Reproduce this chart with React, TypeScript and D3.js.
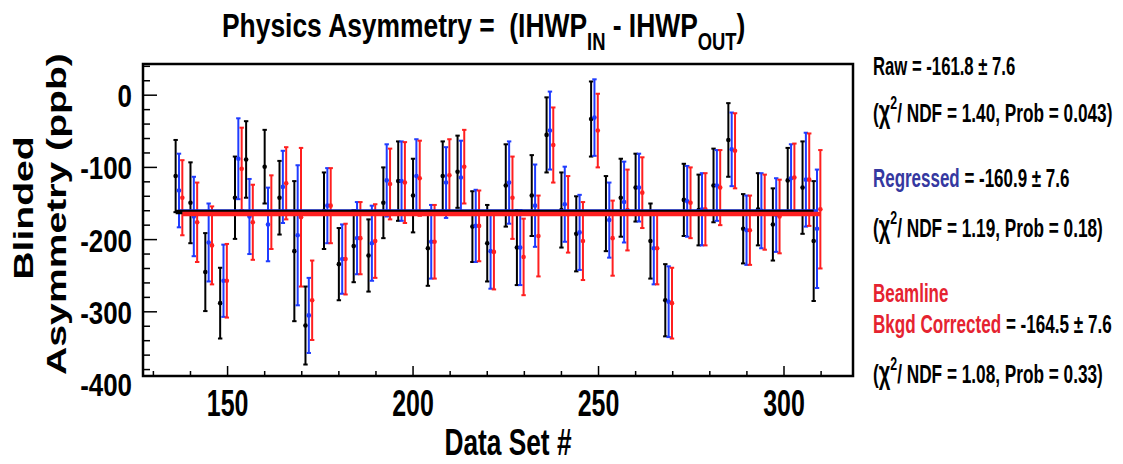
import React from 'react';
import * as d3 from 'd3';

// data set numbers
const runs = [136, 140, 144, 148, 152, 155, 160, 164, 168, 171, 176, 180, 184, 188, 192, 196, 200, 204, 208, 212, 216, 220, 225, 228, 232, 236, 240, 244, 248, 252, 256, 260, 264, 268, 273, 277, 281, 285, 289, 293, 297, 301, 305, 308];

// raw asymmetry (black)
const rawAsym = [-112, -149, -245, -288, -142, -89, -99, -142, -216, -319, -160, -234, -209, -222, -149, -119, -139, -212, -112, -106, -182, -205, -125, -211, -139, -55, -159, -192, -33, -164, -142, -128, -202, -284, -145, -159, -125, -62, -185, -158, -179, -118, -128, -202];
const rawErr = [50, 56, 54, 49, 57, 53, 51, 51, 97, 54, 53, 50, 50, 50, 49, 55, 51, 52, 48, 50, 49, 53, 57, 52, 56, 52, 52, 52, 52, 52, 54, 47, 52, 50, 50, 49, 51, 51, 48, 50, 50, 45, 64, 83];

// regressed (blue)
const regAsym = [-132, -168, -204, -257, -88, -168, -179, -127, -194, -305, -153, -227, -198, -205, -118, -119, -112, -203, -121, -114, -181, -216, -121, -211, -153, -49, -151, -190, -31, -173, -148, -128, -212, -286, -147, -158, -125, -75, -187, -160, -166, -115, -117, -185];
const regErr = [51, 55, 54, 50, 56, 52, 51, 50, 97, 52, 52, 48, 50, 52, 50, 55, 51, 51, 49, 51, 50, 52, 57, 52, 57, 54, 52, 52, 53, 52, 56, 47, 50, 49, 49, 50, 49, 51, 48, 52, 51, 47, 65, 82];

// beamline background corrected (red)
const corAsym = [-142, -176, -208, -257, -102, -176, -162, -122, -169, -284, -153, -227, -198, -202, -123, -121, -115, -203, -111, -99, -181, -217, -142, -224, -195, -69, -165, -202, -49, -198, -159, -135, -212, -288, -149, -158, -128, -77, -187, -162, -168, -114, -117, -158];
const corErr = [52, 55, 54, 51, 57, 52, 51, 50, 96, 55, 52, 49, 50, 51, 49, 56, 52, 51, 50, 51, 49, 52, 57, 53, 56, 52, 53, 54, 51, 52, 56, 49, 50, 49, 49, 50, 52, 52, 48, 52, 51, 47, 64, 82];

// fitted constants
const fitMeans = [-161.8, -160.9, -164.5];

const xTicks = [150, 200, 250, 300];
const yTicks = [0, -100, -200, -300, -400];

const statLines = [
  ['Raw', ' = -161.8 \u00b1 7.6'],
  ['1.40', '0.043'],
  ['Regressed', ' = -160.9 \u00b1 7.6'],
  ['1.19', '0.18'],
  ['Beamline'],
  ['Bkgd Corrected', ' = -164.5 \u00b1 7.6'],
  ['1.08', '0.33'],
];

const W = 1123;
const H = 464;
const FONT = '"Liberation Sans", Arial, Helvetica, sans-serif';

const series = [
  { vals: rawAsym, errs: rawErr, color: '#000000', dx: 0 },
  { vals: regAsym, errs: regErr, color: '#1f3cff', dx: 0.9 },
  { vals: corAsym, errs: corErr, color: '#ff1f1f', dx: 1.8 },
];

const App = () => {
  const x = d3.scaleLinear().domain([127.2, 318.6]).range([143, 853]);
  const y = d3.scaleLinear().domain([43.2, -388.9]).range([64, 376]);
  const [x0, x1] = x.range();
  const [y0, y1] = y.range();

  const xMinor = d3.range(130, 319, 10);
  const yMinor = d3.range(-380, 43, 20);

  const chi = (ndf, prob, yy) => (
    <text transform={`translate(873,${yy}) scale(0.65,1)`} fontSize={26.5} style={{ whiteSpace: 'pre' }}>
      (<tspan fontSize={31}>χ</tspan><tspan fontSize={19} dy={-13}>2</tspan>
      <tspan dy={13}>{`/ NDF = ${ndf}, Prob = ${prob})`}</tspan>
    </text>
  );

  return (
    <svg width={W} height={H} style={{ position: 'absolute', left: 0, top: 0, background: '#fff' }}
      fontFamily={FONT} fontWeight="bold">
      {/* title */}
      <text transform="translate(222,37) scale(0.8,1)" fontSize={33} style={{ whiteSpace: 'pre' }}>
        Physics Asymmetry =  (IHWP<tspan fontSize={23} dy={13}>IN</tspan>
        <tspan dy={-13}> - IHWP</tspan>
        <tspan fontSize={23} dy={13}>OUT</tspan>
        <tspan dy={-13}>)</tspan>
      </text>

      {/* data points */}
      {series.map((s, si) => (
        <g key={si} stroke={s.color} fill={s.color} strokeWidth={2}>
          {runs.map((r, i) => {
            const cx = x(r + s.dx);
            const yt = y(s.vals[i] + s.errs[i]);
            const yb = y(s.vals[i] - s.errs[i]);
            return (
              <g key={i}>
                <line x1={cx} x2={cx} y1={yt} y2={yb} />
                <line x1={cx - 2.2} x2={cx + 2.2} y1={yt} y2={yt} />
                <line x1={cx - 2.2} x2={cx + 2.2} y1={yb} y2={yb} />
                <circle cx={cx} cy={y(s.vals[i])} r={2.3} stroke="none" />
              </g>
            );
          })}
        </g>
      ))}

      {/* fit lines */}
      {[1, 0, 2].map((si) => (
        <line key={si} x1={x(runs[0] + series[si].dx)} x2={x(runs[runs.length - 1] + series[si].dx)}
          y1={y(fitMeans[si])} y2={y(fitMeans[si])} stroke={series[si].color} strokeWidth={4.4} />
      ))}

      {/* frame */}
      <rect x={x0} y={y0} width={x1 - x0} height={y1 - y0} fill="none" stroke="#000" strokeWidth={2.5} />

      {/* x ticks */}
      {xMinor.map((t) => (
        <line key={t} x1={x(t)} x2={x(t)} y1={y1} y2={y1 - (t % 50 === 0 ? 10 : 5)} stroke="#000" strokeWidth={1.5} />
      ))}
      {xTicks.map((t) => (
        <text key={t} transform={`translate(${x(t)},416) scale(0.675,1)`} fontSize={37} textAnchor="middle">{t}</text>
      ))}
      <text transform="translate(508,455) scale(0.73,1)" fontSize={36} textAnchor="middle">Data Set #</text>

      {/* y ticks */}
      {yMinor.map((t) => (
        <line key={t} x1={x0} x2={x0 + (t % 100 === 0 ? 14 : 7)} y1={y(t)} y2={y(t)} stroke="#000" strokeWidth={1.5} />
      ))}
      {yTicks.map((t) => (
        <text key={t} transform={`translate(132,${y(t) + 12}) scale(0.81,1)`} fontSize={32} textAnchor="end">{t}</text>
      ))}
      <text transform="translate(33,208) rotate(-90) scale(1.45,1)" fontSize={27} textAnchor="middle">Blinded</text>
      <text transform="translate(66,214) rotate(-90) scale(1.45,1)" fontSize={27} textAnchor="middle">Asymmetry (ppb)</text>

      {/* fit results */}
      <text transform="translate(873,75) scale(0.63,1)" fontSize={26.5} style={{ whiteSpace: 'pre' }}>
        {statLines[0][0]}{statLines[0][1]}
      </text>
      {chi(statLines[1][0], statLines[1][1], 121.7)}
      <text transform="translate(873,186.7) scale(0.64,1)" fontSize={26.5} style={{ whiteSpace: 'pre' }}>
        <tspan fill="#3538a0">{statLines[2][0]}</tspan>{statLines[2][1]}
      </text>
      {chi(statLines[3][0], statLines[3][1], 236.7)}
      <text transform="translate(873,301.7) scale(0.64,1)" fontSize={26.5} fill="#e52330">{statLines[4][0]}</text>
      <text transform="translate(873,333) scale(0.645,1)" fontSize={26.5} style={{ whiteSpace: 'pre' }}>
        <tspan fill="#e52330">{statLines[5][0]}</tspan>{statLines[5][1]}
      </text>
      {chi(statLines[6][0], statLines[6][1], 383)}
    </svg>
  );
};

export default App;
